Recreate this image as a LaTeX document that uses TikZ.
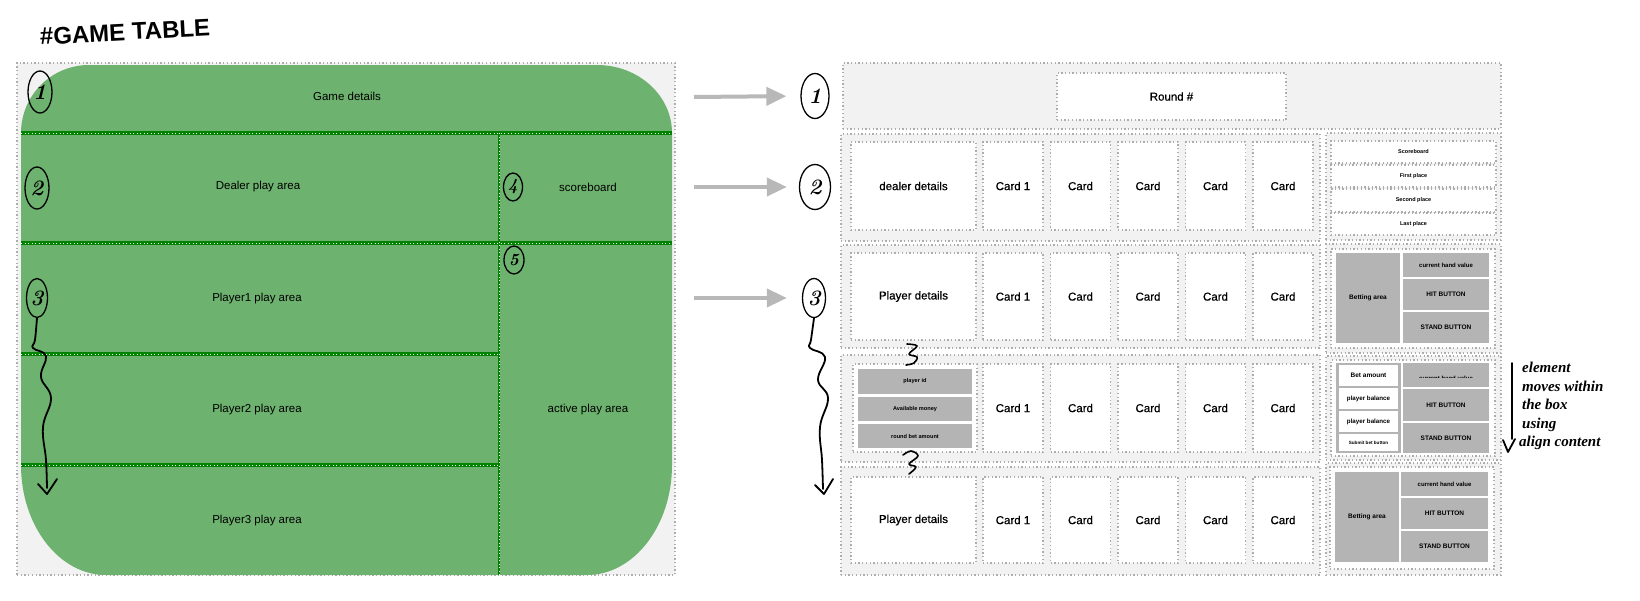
\documentclass[tikz,border=0pt]{standalone}
\usepackage{fontspec}
\usetikzlibrary{shapes.geometric,arrows.meta}
\newfontfamily\arialf{Liberation Sans}
\newfontfamily\medf{Liberation Sans}[FakeBold=0.6]
\newfontfamily\handf{Liberation Serif}
\definecolor{lgray}{HTML}{F2F2F2}
\definecolor{dotgray}{HTML}{ADADAD}
\definecolor{tablegreen}{HTML}{6DB26F}
\definecolor{dkgreen}{HTML}{008400}
\definecolor{blockgray}{HTML}{B4B4B4}
\definecolor{arrowgray}{HTML}{B8B8B8}
\newcommand{\placebox}[7]{%
  \pgfmathsetmacro{\pbw}{#4-#2}\pgfmathsetmacro{\pbh}{#5-#3}%
  \node[inner sep=0pt, outer sep=0pt, anchor=north west, minimum width=\pbw pt, minimum height=\pbh pt, #6] (#1) at (#2,#3) {#7};}
\newcommand{\ftiny}[1]{\arialf\bfseries\fontsize{#1}{#1}\selectfont}
\begin{document}
\begin{tikzpicture}[x=1pt,y=-1pt,
  dotb/.style={draw=dotgray, line width=1.3pt, dash pattern=on 1.3pt off 2.4pt},
  panel/.style={fill=lgray, dotb},
  wbox/.style={fill=white, dotb},
  gblock/.style={fill=blockgray},
  wplain/.style={fill=white},
  gline/.style={draw=dkgreen, line width=3.6pt, postaction={draw=white, line width=0.7pt, dash pattern=on 0.9pt off 2.6pt}},
  vgline/.style={draw=dkgreen, line width=2.4pt, postaction={draw=white, line width=0.6pt, dash pattern=on 0.9pt off 2.6pt}},
  lefttxt/.style={font=\arialf\fontsize{11.5}{12}\selectfont},
  righttxt/.style={font=\medf\fontsize{11.5}{12}\selectfont},
  numc/.style={ellipse, draw=black, line width=1.3pt, inner sep=0pt, font=\rmfamily\bfseries\itshape\fontsize{22}{22}\selectfont},
  hand/.style={draw=black, line width=1.8pt, line cap=round, line join=round},
  bigarrow/.style={draw=arrowgray, line width=4pt, -{Triangle[length=20pt, width=18pt]}}
]
\useasboundingbox (0,0) rectangle (1640,600);

% ---------- title ----------
\node[font=\arialf\bfseries\fontsize{24}{24}\selectfont, rotate=3, inner sep=0pt] (title) at (125,32) {\#GAME TABLE};

% ---------- left panel ----------
\placebox{leftpanel}{17}{63}{675}{575}{panel}{}
\fill[tablegreen] (89,65) -- (597,65) .. controls (638.4,65) and (672,95.4) .. (672,133)
  -- (672,465) .. controls (672,525.8) and (633.9,575) .. (587,575)
  -- (106,575) .. controls (59.1,575) and (21,525.8) .. (21,465)
  -- (21,133) .. controls (21,95.4) and (51.4,65) .. (89,65) -- cycle;
\draw[gline] (21,133) -- (672,133);
\draw[gline] (21,243) -- (672,243);
\draw[gline] (21,354) -- (499,354);
\draw[gline] (21,465) -- (499,465);
\draw[vgline] (499,133) -- (499,575);

\node[lefttxt] (gamedet) at (347,96) {Game details};
\node[lefttxt] (dealerarea) at (258,187) {Dealer play area};
\node[lefttxt] (scorearea) at (588,187) {scoreboard};
\node[lefttxt] (p1area) at (257,299) {Player1 play area};
\node[lefttxt] (p2area) at (257,410) {Player2 play area};
\node[lefttxt] (activearea) at (588,410) {active play area};
\node[lefttxt] (p3area) at (257,521) {Player3 play area};

\node[numc, minimum width=24pt, minimum height=42pt] (nl1) at (40,92) {1};
\node[numc, minimum width=24pt, minimum height=42pt] (nl2) at (37,188) {2};
\node[numc, minimum width=21pt, minimum height=39pt] (nl3) at (37,298) {3};
\node[numc, minimum width=19pt, minimum height=28pt, font=\rmfamily\bfseries\itshape\fontsize{17}{17}\selectfont] (nl4) at (513,187) {4};
\node[numc, minimum width=20pt, minimum height=28pt, font=\rmfamily\bfseries\itshape\fontsize{17}{17}\selectfont] (nl5) at (514,260) {5};

\coordinate (wlend) at (47,488);
\draw[hand] plot[smooth, tension=0.7] coordinates {(nl3.south) (35,340) (33,348) (46,356) (41,377) (51,398) (43,427) (46,460) (wlend)};
\draw[hand] (38,484) -- (47,494) -- (57,479);

% ---------- middle arrows ----------
\coordinate (as1) at (694,97);
\coordinate (as2) at (694,187);
\coordinate (as3) at (694,298);
\node[numc, minimum width=28pt, minimum height=45pt] (nr1) at (815,96) {1};
\node[numc, minimum width=31pt, minimum height=45pt] (nr2) at (815,187) {2};
\node[numc, minimum width=23pt, minimum height=39pt] (nr3) at (814,298) {3};
\draw[bigarrow, shorten >=14pt] (as1) -- (nr1.west);
\draw[bigarrow, shorten >=12pt] (as2) -- (nr2.west);
\draw[bigarrow, shorten >=15pt] (as3) -- (nr3.west);

\coordinate (wrend) at (823,489);
\draw[hand] plot[smooth, tension=0.7] coordinates {(nr3.south) (811,340) (810,348) (825,357) (818,380) (828,398) (820,427) (822,460) (wrend)};
\draw[hand] (815,485) -- (824,494) -- (833,479);

% ---------- right panel: top ----------
\placebox{toprow}{843}{63}{1501}{129}{panel}{}
\placebox{round}{1057}{73}{1286}{120}{wbox, righttxt}{Round \#}

% ---------- rows ----------
\placebox{row2}{841}{134}{1320}{241}{panel}{}
\placebox{row3}{841}{245}{1320}{348}{panel}{}
\placebox{row4}{841}{355}{1320}{462}{panel}{}
\placebox{row5}{841}{467}{1320}{575}{panel}{}

\placebox{dealerdet}{851}{142}{976}{230}{wbox, righttxt}{dealer details}
\placebox{p1det}{851}{253}{976}{340}{wbox, righttxt}{Player details}
\placebox{p2det}{853}{364}{977}{452}{wbox}{}
\placebox{pid}{858}{369}{972}{394}{gblock, font=\ftiny{5.6}}{player id}
\placebox{pmoney}{858}{397}{972}{421}{gblock, font=\ftiny{5.6}}{Available money}
\placebox{pbet}{858}{424}{972}{448}{gblock, font=\ftiny{5.6}}{round bet amount}
\placebox{p3det}{851}{477}{976}{563}{wbox, righttxt}{Player details}

\foreach \r/\yt/\yb in {2/142/230,3/253/340,4/364/452,5/477/563}{
  \foreach \i in {0,...,4}{
    \pgfmathsetmacro{\xl}{983+67.5*\i}
    \pgfmathsetmacro{\xr}{\xl+60}
    \ifnum\i=0 \def\ct{Card 1}\else\def\ct{Card}\fi
    \placebox{c\r\i}{\xl}{\yt}{\xr}{\yb}{wbox, righttxt}{\ct}
  }
}

% squiggles
\draw[draw=black, line width=1.6pt, line cap=round, line join=round] plot[smooth, tension=0.6] coordinates {(907,344) (917,346) (909,354) (917,357) (914,363) (906,365)};
\draw[draw=black, line width=1.6pt, line cap=round, line join=round] plot[smooth, tension=0.6] coordinates {(903,455) (911,451) (918,456) (909,464) (916,467) (909,474)};

% ---------- right column ----------
\placebox{scoregrp}{1326}{133}{1501}{240}{panel}{}
\placebox{sc1}{1331}{141}{1496}{163}{wbox, font=\ftiny{5.5}}{Scoreboard}
\placebox{sc2}{1331}{165}{1496}{187}{wbox, font=\ftiny{5.5}}{First place}
\placebox{sc3}{1331}{189}{1496}{212}{wbox, font=\ftiny{5.5}}{Second place}
\placebox{sc4}{1331}{213}{1496}{235}{wbox, font=\ftiny{5.5}}{Last place}

% group 1
\placebox{g1}{1326}{244}{1501}{353}{panel}{}
\placebox{g1in}{1331}{249}{1495}{348}{wbox}{}
\placebox{g1bet}{1336}{253}{1400}{343}{gblock, font=\ftiny{6.5}}{Betting area}
\placebox{g1hand}{1403}{253}{1489}{277}{gblock, font=\ftiny{6}}{current hand value}
\placebox{g1hit}{1403}{279}{1489}{310}{gblock, font=\ftiny{6.5}}{HIT BUTTON}
\placebox{g1stand}{1403}{312}{1489}{343}{gblock, font=\ftiny{6.5}}{STAND BUTTON}

% group 2
\placebox{g2}{1326}{356}{1501}{460}{panel}{}
\placebox{g2in}{1331}{360}{1495}{456}{wbox}{}
\placebox{g2left}{1336}{363}{1401}{453}{gblock}{}
\placebox{g2bet}{1339}{365}{1398}{386}{wplain, font=\ftiny{6.5}}{Bet amount}
\placebox{g2bal1}{1339}{388}{1398}{409}{wplain, font=\ftiny{6.2}}{player balance}
\placebox{g2bal2}{1339}{411}{1398}{432}{wplain, font=\ftiny{6.2}}{player balance}
\placebox{g2sub}{1339}{434}{1398}{451}{wplain, font=\ftiny{4.6}}{Submit bet button}
\placebox{g2hand}{1403}{363}{1489}{387}{gblock}{}
\begin{scope}
\clip (1403,363) rectangle (1489,377.6);
\node[font=\ftiny{6}, inner sep=0pt] (g2handtxt) at (1446,378.3) {current hand value};
\end{scope}
\placebox{g2hit}{1403}{389}{1489}{421}{gblock, font=\ftiny{6.5}}{HIT BUTTON}
\placebox{g2stand}{1403}{423}{1489}{453}{gblock, font=\ftiny{6.5}}{STAND BUTTON}

% group 3
\placebox{g3}{1326}{463}{1501}{575}{panel}{}
\placebox{g3in}{1330}{467}{1494}{569}{wbox}{}
\placebox{g3bet}{1335}{472}{1399}{562}{gblock, font=\ftiny{6.5}}{Betting area}
\placebox{g3hand}{1401}{472}{1488}{496}{gblock, font=\ftiny{6}}{current hand value}
\placebox{g3hit}{1401}{498}{1488}{529}{gblock, font=\ftiny{6.5}}{HIT BUTTON}
\placebox{g3stand}{1401}{531}{1488}{562}{gblock, font=\ftiny{6.5}}{STAND BUTTON}

% ---------- annotation ----------
\coordinate (vtop) at (1512,363);
\coordinate (vbot) at (1512,439);
\draw[hand, line width=1.8pt] (vtop) -- (vbot);
\draw[hand, line width=1.8pt] (1503,440) -- (1508,452) -- (1515,439);
\node[anchor=north west, inner sep=0pt, align=left, font=\handf\bfseries\itshape\fontsize{15}{18.5}\selectfont] (annot) at (1522,362) {element\\moves within\\the box\\using};
\node[anchor=west, inner sep=0pt, font=\handf\bfseries\itshape\fontsize{15}{15}\selectfont] (annot2) at (1519,443) {align content};
\end{tikzpicture}
\end{document}
